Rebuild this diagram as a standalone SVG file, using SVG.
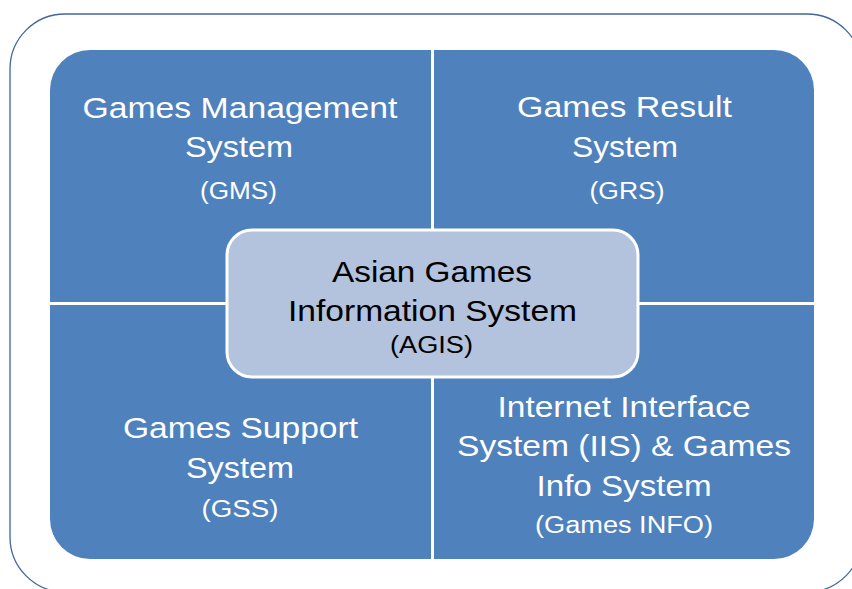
<svg xmlns="http://www.w3.org/2000/svg" width="852" height="589" viewBox="0 0 852 589">
<style>
.q{fill:#4f81bd}
.t{font-family:"Liberation Sans",Arial,sans-serif;text-anchor:middle;fill:#ffffff}
.c{fill:#000000}
.b{font-size:30px}
.s{font-size:23px}
</style>
<rect x="0" y="0" width="852" height="589" fill="#ffffff"/>
<rect id="frame" x="10" y="14" width="852" height="578" rx="55" ry="55" fill="none" stroke="#41679a" stroke-width="1.3"/>
<g id="gms">
<path class="q" d="M50,302 V90 A40,40 0 0 1 90,50 H431 V302 Z"/>
<text class="t b" x="240" y="118" textLength="315" lengthAdjust="spacingAndGlyphs">Games Management</text>
<text class="t b" x="239" y="157" textLength="108" lengthAdjust="spacingAndGlyphs">System</text>
<text class="t s" x="238.5" y="199" textLength="77" lengthAdjust="spacingAndGlyphs">(GMS)</text>
</g>
<g id="grs">
<path class="q" d="M434,50 H774 A40,40 0 0 1 814,90 V302 H434 Z"/>
<text class="t b" x="624.5" y="117" textLength="215" lengthAdjust="spacingAndGlyphs">Games Result</text>
<text class="t b" x="625" y="157" textLength="106" lengthAdjust="spacingAndGlyphs">System</text>
<text class="t s" x="627" y="199" textLength="75" lengthAdjust="spacingAndGlyphs">(GRS)</text>
</g>
<g id="gss">
<path class="q" d="M50,305 H431 V559 H90 A40,40 0 0 1 50,519 Z"/>
<text class="t b" x="240.5" y="438" textLength="235" lengthAdjust="spacingAndGlyphs">Games Support</text>
<text class="t b" x="240" y="478" textLength="108" lengthAdjust="spacingAndGlyphs">System</text>
<text class="t s" x="240" y="517" textLength="77" lengthAdjust="spacingAndGlyphs">(GSS)</text>
</g>
<g id="iis">
<path class="q" d="M434,305 H814 V519 A40,40 0 0 1 774,559 H434 Z"/>
<text class="t b" x="624" y="417" textLength="253" lengthAdjust="spacingAndGlyphs">Internet Interface</text>
<text class="t b" x="624" y="456" textLength="334" lengthAdjust="spacingAndGlyphs">System (IIS) &amp; Games</text>
<text class="t b" x="624" y="496" textLength="175" lengthAdjust="spacingAndGlyphs">Info System</text>
<text class="t s" x="624" y="533" textLength="178" lengthAdjust="spacingAndGlyphs">(Games INFO)</text>
</g>
<g id="agis">
<rect x="227" y="230" width="411" height="147" rx="25" ry="25" fill="#b3c2dd" stroke="#ffffff" stroke-width="3"/>
<text class="t b c" x="432" y="282" textLength="200" lengthAdjust="spacingAndGlyphs">Asian Games</text>
<text class="t b c" x="432.5" y="321" textLength="289" lengthAdjust="spacingAndGlyphs">Information System</text>
<text class="t s c" x="431.5" y="353" textLength="83" lengthAdjust="spacingAndGlyphs">(AGIS)</text>
</g>
<g id="connectors"></g>
</svg>
